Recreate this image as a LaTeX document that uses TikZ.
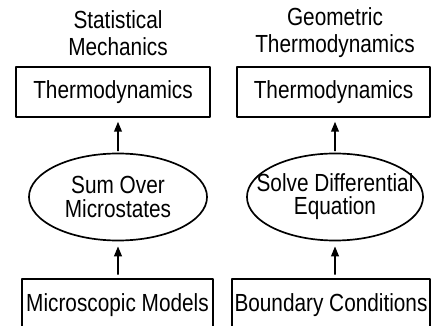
\documentclass[tikz,border=0pt]{standalone}
\usepackage{fontspec}
\setmainfont{Liberation Sans}[FakeStretch=0.84]
\usetikzlibrary{shapes.geometric,arrows.meta}

\begin{document}
\begin{tikzpicture}[x=0.025cm,y=-0.025cm,line cap=round,line join=round,>={Triangle[length=7pt,width=5.5pt]},
  every node/.style={inner sep=0pt,font=\fontsize{17.6}{19.2}\selectfont},
  box/.style={draw,line width=1.2pt,minimum height=1.25cm},
  oval/.style={draw,ellipse,line width=1.2pt,minimum height=2.175cm,align=center,font=\fontsize{17.6}{16.5}\selectfont}]
  \clip (0,0) rectangle (433,326);
  \node[align=center] (hd1) at (118,33) {Statistical\\Mechanics};
  \node[align=center] (hd2) at (335,33) {Geometric\\Thermodynamics};
  \node[box,minimum width=4.85cm] (th1) at (113,92) {Thermodynamics};
  \node[box,minimum width=4.825cm] (th2) at (333.5,92) {Thermodynamics};
  \node[oval,minimum width=4.45cm] (sum) at (118,197) {Sum Over\\Microstates};
  \node[oval,minimum width=4.4cm,inner xsep=-0.5cm] (sde) at (335,197) {Solve Differential\\Equation};
  \node[box,minimum width=4.775cm,minimum height=1.3cm] (mic) at (117.5,305) {Microscopic Models};
  \node[box,minimum width=4.95cm,minimum height=1.3cm] (bnd) at (331,305) {Boundary Conditions};
  \foreach \lo/\hi in {sum/th1,sde/th2} {
    \draw[->,line width=1pt,shorten <=1.4pt,shorten >=2.8pt] (\lo.north) -- (\lo.north |- \hi.south);
  }
  \foreach \lo/\hi in {mic/sum,bnd/sde} {
    \draw[->,line width=1pt,shorten <=2.8pt,shorten >=3.6pt] (\hi |- \lo.north) -- (\hi.south);
  }
\end{tikzpicture}
\end{document}
